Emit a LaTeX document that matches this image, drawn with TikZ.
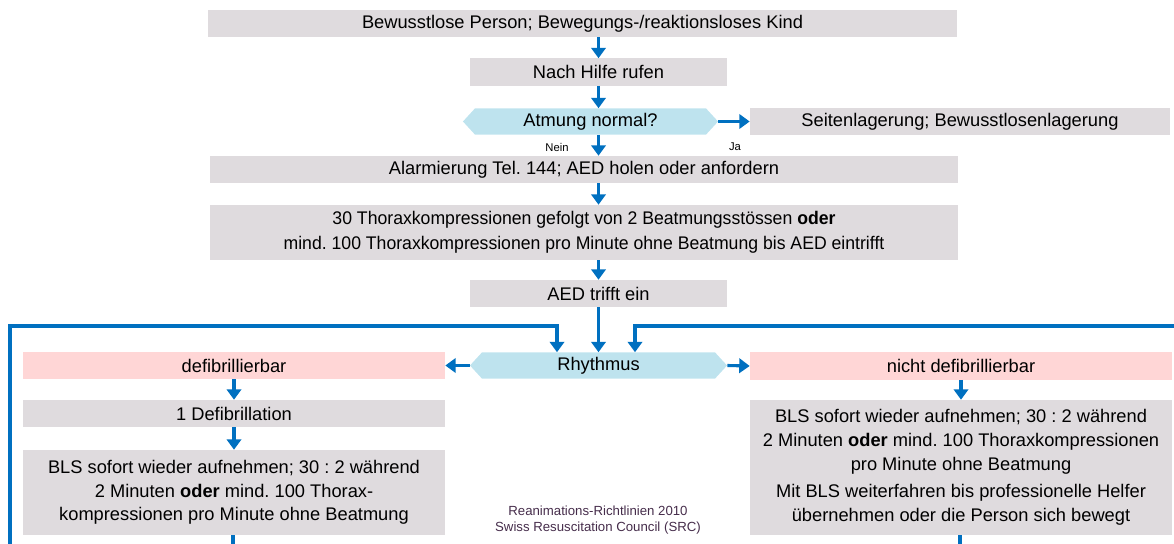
\documentclass[tikz,border=0pt]{standalone}
\usepackage{fontspec}
\setmainfont{Liberation Sans}
\newfontfamily\narrowfont{Liberation Sans}[FakeStretch=0.965]
\usetikzlibrary{positioning,calc,arrows.meta,shapes.symbols}
\definecolor{boxgray}{RGB}{223,219,222}
\definecolor{boxpink}{RGB}{255,214,214}
\definecolor{boxblue}{RGB}{190,227,238}
\definecolor{flowblue}{RGB}{0,112,192}
\definecolor{srctext}{RGB}{70,45,75}
\frenchspacing
\tikzset{font=\fontsize{13}{16.8}\selectfont}
\tikzset{
	stepbox/.style={fill=boxgray, inner sep=1pt, align=center, minimum height=0.675cm},
	pinkbox/.style={stepbox, fill=boxpink},
	askbox/.style={signal, signal to=west and east, signal pointer angle=95, fill=boxblue, inner sep=1pt, minimum height=0.65cm},
	flow/.style={draw=flowblue, line width=2.2pt, -{Triangle[width=0.36cm,length=0.26cm]}},
	loopline/.style={draw=flowblue, line width=2.6pt}
}

\begin{document}
\begin{tikzpicture}[x=0.025cm, y=-0.025cm]
	\useasboundingbox (0,0) rectangle (1174,544);

	% Ablauf oben
	\node[stepbox, minimum width=18.725cm] (person) at (582.5, 23.5) {Bewusstlose Person; Bewegungs-/reaktionsloses Kind};
	\node[stepbox, minimum width=6.425cm] (hilfe) at (598.5, 72) {Nach Hilfe rufen};
	\node[askbox, minimum width=6.375cm] (atmung) at (590.5, 121.5) {Atmung normal?};
	\node[stepbox, minimum width=10.5cm] (seite) at (960, 121.5) {Seitenlagerung; Bewusstlosenlagerung};
	\node[font=\fontsize{8}{9}\selectfont] (nein) at (557, 147) {Nein};
	\node[font=\fontsize{8}{9}\selectfont] (ja) at (735, 147) {Ja};
	\node[stepbox, minimum width=18.7cm] (alarm) at (584, 169.5) {Alarmierung Tel. 144; AED holen oder anfordern};
	\node[stepbox, minimum width=18.7cm, minimum height=1.375cm, font=\narrowfont\fontsize{13}{17.8}\selectfont] (thorax) at (584, 232.5)
		{30 Thoraxkompressionen gefolgt von 2 Beatmungsstössen \textbf{oder}\\mind. 100 Thoraxkompressionen pro Minute ohne Beatmung bis AED eintrifft};
	\node[stepbox, minimum width=6.425cm] (aed) at (598.5, 293.5) {AED trifft ein};
	\node[askbox, minimum width=6.425cm] (rhythmus) at (598.5, 365.5) {Rhythmus};

	% linker Zweig
	\node[pinkbox, minimum width=10.55cm] (defi) at (234, 365.5) {defibrillierbar};
	\node[stepbox, minimum width=10.55cm] (schock) at (234, 413.5) {1 Defibrillation};
	\node[stepbox, minimum width=10.55cm, minimum height=2.125cm] (blsL) at (234, 492.5)
		{BLS sofort wieder aufnehmen; 30 : 2 während\\2 Minuten \textbf{oder} mind. 100 Thorax-\\kompressionen pro Minute ohne Beatmung};

	% rechter Zweig
	\node[pinkbox, minimum width=10.55cm] (nichtdefi) at (961, 366) {nicht defibrillierbar};
	\node[stepbox, minimum width=10.55cm, minimum height=3.375cm] (blsR) at (961, 467.5)
		{BLS sofort wieder aufnehmen; 30 : 2 während\\2 Minuten \textbf{oder} mind. 100 Thoraxkompressionen\\pro Minute ohne Beatmung\\[3pt]Mit BLS weiterfahren bis professionelle Helfer\\übernehmen oder die Person sich bewegt};

	\node[text=srctext, align=center, font=\fontsize{9.4}{11.4}\selectfont] (quelle) at (598, 520)
		{Reanimations-Richtlinien 2010\\Swiss Resuscitation Council (SRC)};

	\coordinate (loopL) at (10, 544);
	\coordinate (loopR) at (1174, 326);
	\coordinate (outL) at (233, 544);
	\coordinate (outR) at (960, 544);

	\draw[flow] (hilfe.north |- person.south) -- (hilfe.north);
	\draw[flow] (hilfe.south) -- (hilfe.south |- atmung.north);
	\draw[flow] (atmung.east) -- (seite.west);
	\draw[flow] (hilfe.south |- atmung.south) -- (hilfe.south |- alarm.north);
	\draw[flow] (hilfe.south |- alarm.south) -- (hilfe.south |- thorax.north);
	\draw[flow] (aed.north |- thorax.south) -- (aed.north);
	\draw[flow] (aed.south) -- (rhythmus.north);
	\draw[flow] (rhythmus.west) -- (defi.east);
	\draw[flow] (rhythmus.east) -- (nichtdefi.west);
	\draw[flow] (schock.north |- defi.south) -- (schock.north);
	\draw[flow] (schock.south) -- (blsL.north);
	\draw[flow] (nichtdefi.south) -- (blsR.north);

	\draw[loopline, -{Triangle[width=0.36cm,length=0.26cm]}] (loopL) |- ($(rhythmus.north)+(-41.5,-26)$) -- ($(rhythmus.north)+(-41.5,0)$);
	\draw[loopline, -{Triangle[width=0.36cm,length=0.26cm]}] (loopR) -| ($(rhythmus.north)+(36.5,0)$);
	\draw[loopline] (blsL.south -| outL) -- (outL);
	\draw[loopline] (blsR.south -| outR) -- (outR);
\end{tikzpicture}
\end{document}
